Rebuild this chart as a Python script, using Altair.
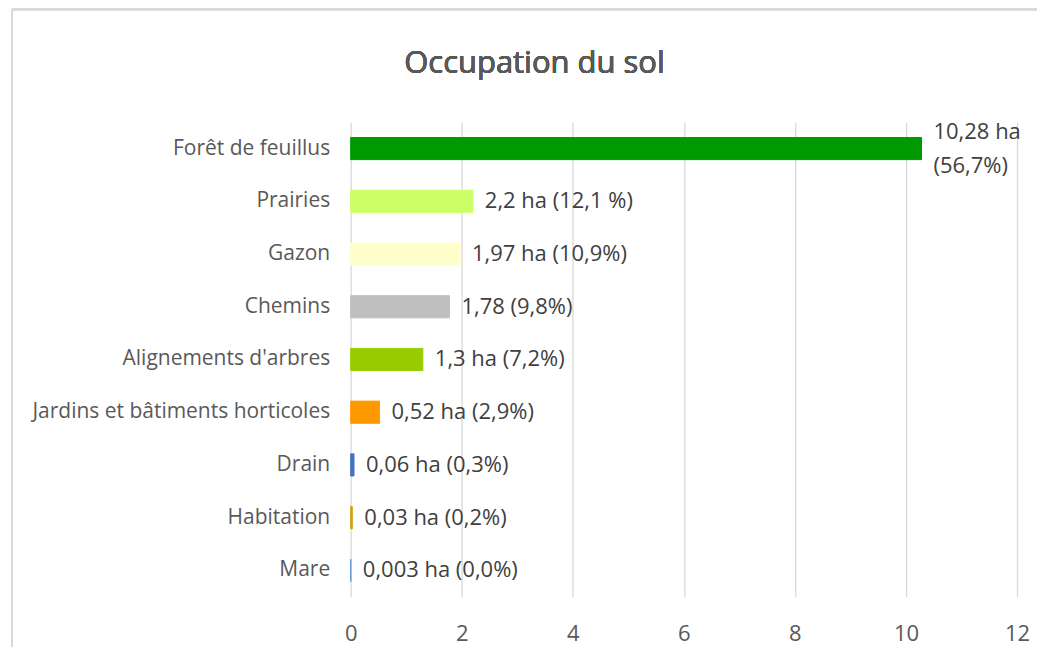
import altair as alt
import pandas as pd

categories = ["Forêt de feuillus", "Prairies", "Gazon", "Chemins", "Alignements d'arbres",
              "Jardins et bâtiments horticoles", "Drain", "Habitation", "Mare"]
values = [10.28, 2.2, 1.97, 1.78, 1.3, 0.52, 0.06, 0.03, 0.003]
labels = ["10,28 ha\n(56,7%)", "2,2 ha (12,1 %)", "1,97 ha (10,9%)", "1,78 (9,8%)",
          "1,3 ha (7,2%)", "0,52 ha (2,9%)", "0,06 ha (0,3%)", "0,03 ha (0,2%)", "0,003 ha (0,0%)"]
colors = ["#009A00", "#CCFF66", "#FFFFCC", "#BFBFBF", "#99CC00", "#FF9900", "#4472C4", "#D4A017", "#5B9BD5"]
x_ticks = [0, 2, 4, 6, 8, 10, 12]
title_text = "Occupation du sol"

df = pd.DataFrame({"cat": categories, "val": values, "lab": labels})

FONT = "Open Sans"

y_enc = alt.Y("cat:N", sort=categories, title=None,
              scale=alt.Scale(paddingInner=0.58, paddingOuter=0.29),
              axis=alt.Axis(ticks=False, domain=False, labelFontSize=21, labelColor="#595959",
                            labelPadding=21, labelLimit=400, labelFont=FONT))
x_enc = alt.X("val:Q", title=None, scale=alt.Scale(domain=[0, 12], nice=False),
              axis=alt.Axis(values=x_ticks, format="d", ticks=False, domain=False, grid=True,
                            gridColor="#D9D9D9", gridWidth=1.3, labelFontSize=22,
                            labelColor="#595959", labelPadding=27, labelFont=FONT,
                            labelFlush=False))

cscale = alt.Scale(domain=categories, range=colors)
bars = alt.Chart(df).mark_bar(strokeWidth=1).encode(
    x=x_enc, y=y_enc,
    color=alt.Color("cat:N", scale=cscale, legend=None),
    stroke=alt.Color("cat:N", scale=cscale, legend=None),
)

text_style = dict(align="left", baseline="middle", dx=12, fontSize=22, color="#404040",
                  font=FONT, lineBreak="\n", lineHeight=34)

text_single = alt.Chart(df).transform_filter(
    "indexof(datum.lab, '\\n') < 0"
).mark_text(**text_style).encode(
    x="val:Q", y=alt.Y("cat:N", sort=categories), text="lab:N"
)
text_multi = alt.Chart(df).transform_filter(
    "indexof(datum.lab, '\\n') >= 0"
).mark_text(dy=-17, **text_style).encode(
    x="val:Q", y=alt.Y("cat:N", sort=categories), text="lab:N"
)

title = alt.Chart(df).mark_text(text=title_text, fontSize=31, color="#595959", font=FONT,
                                align="center", baseline="alphabetic").encode(
    x=alt.value(184), y=alt.value(-49)
)

frame_left = alt.Chart(df).mark_rule(color="#D9D9D9", strokeWidth=2).encode(
    x=alt.value(-339), y=alt.value(-113), y2=alt.value(560)
)
frame_top = alt.Chart(df).mark_rule(color="#D9D9D9", strokeWidth=2).encode(
    x=alt.value(-339), x2=alt.value(720), y=alt.value(-113)
)

chart = alt.layer(frame_left, frame_top, bars, text_single, text_multi, title).properties(
    width=667, height=475,
    autosize=alt.AutoSizeParams(type="none"),
    padding={"left": 343, "top": 114, "right": 20, "bottom": 50},
).configure_view(stroke=None)

chart.save("out.html", embed_options={"renderer": "svg", "actions": False})
